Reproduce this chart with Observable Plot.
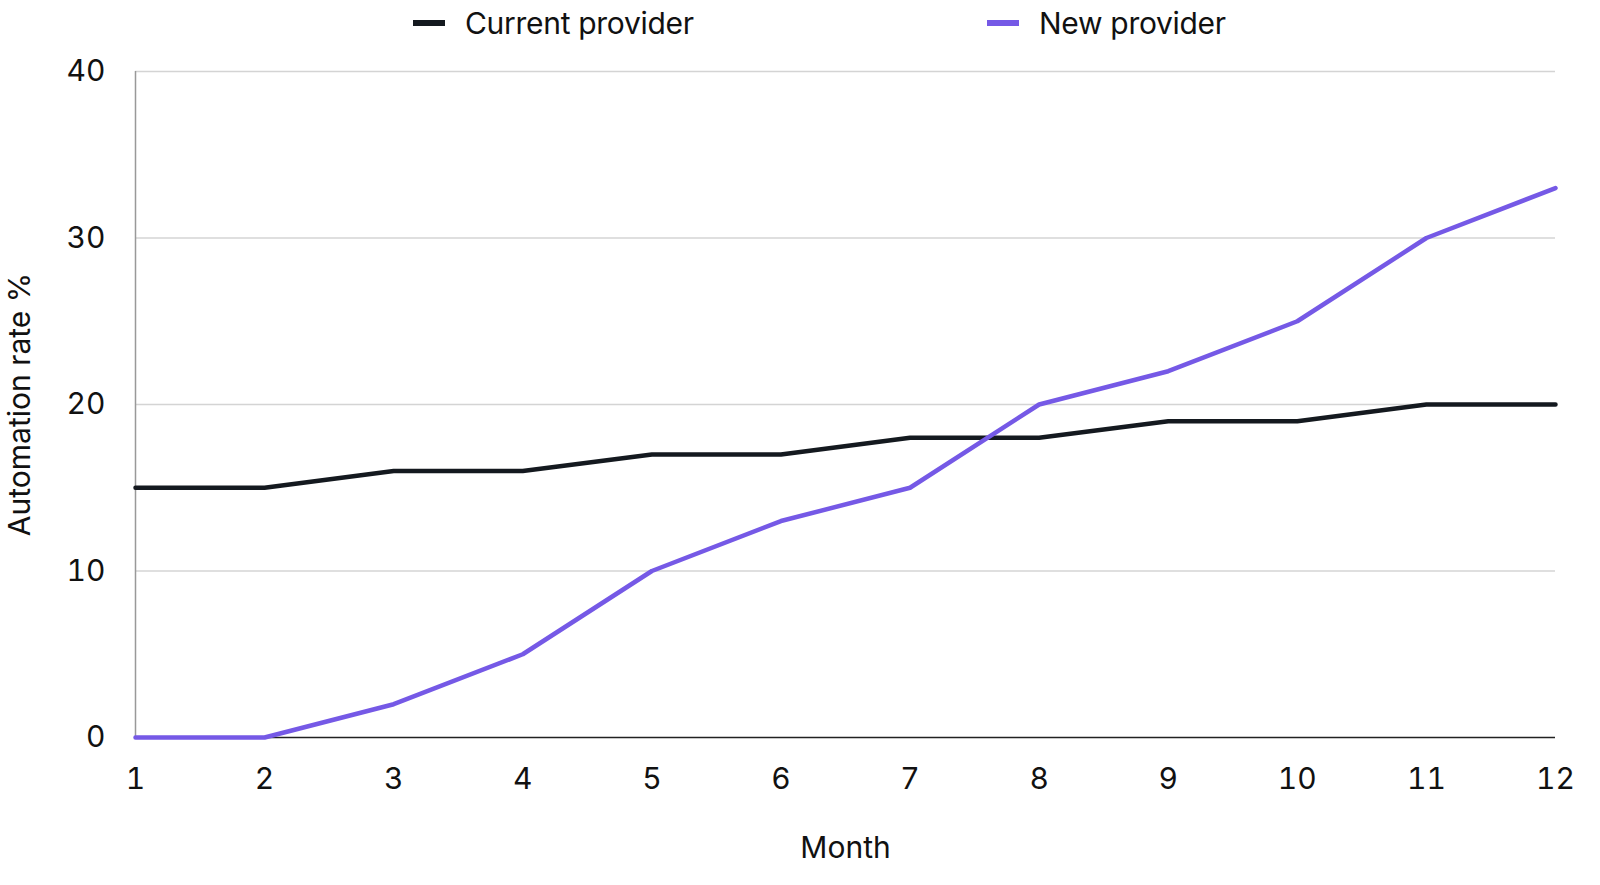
<!DOCTYPE html>
<html>
<head>
<meta charset="utf-8">
<script src="https://cdn.jsdelivr.net/npm/d3@7"></script>
<script src="https://cdn.jsdelivr.net/npm/@observablehq/plot@0.6"></script>
<style>
  html, body { margin: 0; padding: 0; background: #fff; width: 1600px; height: 885px; overflow: hidden; font-family: Inter, "Noto Sans", sans-serif; }
  #wrap { position: relative; width: 1600px; height: 885px; overflow: hidden; }
  #legend { position: relative; height: 45px; width: 1600px; font-size: 30px; color: #111; }
  .item { position: absolute; top: 3px; display: flex; align-items: center; height: 40px; letter-spacing: -0.3px; }
  .sw { width: 32px; height: 6px; margin-right: 20px; }
  #chart { height: 840px; overflow: hidden; }
  svg { display: block; }
</style>
</head>
<body>
<div id="wrap">
  <div id="legend"></div>
  <div id="chart"></div>
</div>
<script>
const months = [1,2,3,4,5,6,7,8,9,10,11,12];
const currentProvider = [15,15,16,16,17,17,18,18,19,19,20,20];
const newProvider = [0,0,2,5,10,13,15,20,22,25,30,33];
const seriesNames = ["Current provider", "New provider"];
const seriesColors = ["#14191f", "#7559e6"];
const yTicks = [0,10,20,30,40];
const gridTicks = [10,20,30,40];

const data = [
  ...months.map((m,i) => ({month: m, value: currentProvider[i], series: seriesNames[0]})),
  ...months.map((m,i) => ({month: m, value: newProvider[i], series: seriesNames[1]}))
];

// legend
const legend = document.getElementById("legend");
const legendX = [413, 987];
seriesNames.forEach((name, i) => {
  const it = document.createElement("div");
  it.className = "item";
  it.style.left = legendX[i] + "px";
  it.innerHTML = `<span class="sw" style="background:${seriesColors[i]}"></span><span>${name}</span>`;
  legend.appendChild(it);
});

const chart = Plot.plot({
  width: 1600,
  height: 840,
  marginLeft: 135,
  marginRight: 45,
  marginTop: 26,
  marginBottom: 148,
  style: {fontFamily: "Inter, 'Noto Sans', sans-serif", fontSize: "30px", color: "#111", background: "#fff", overflow: "hidden"},
  x: {domain: [1, 12]},
  y: {domain: [0, 40]},
  color: {domain: seriesNames, range: seriesColors},
  marks: [
    Plot.ruleY(gridTicks, {stroke: "#d4d4d4", strokeWidth: 1.5}),
    Plot.ruleX([1], {stroke: "#999", strokeWidth: 1.5}),
    Plot.ruleY([0], {stroke: "#222", strokeWidth: 1.5}),
    Plot.axisY({ticks: yTicks, tickSize: 0, tickPadding: 30, label: "Automation rate %", labelAnchor: "center", labelOffset: 127, labelArrow: "none"}),
    Plot.axisX({ticks: months, tickSize: 0, tickPadding: 30, tickFormat: d3.format("d"), label: "Month", labelAnchor: "center", labelOffset: 120, labelArrow: "none"}),
    Plot.line(data, {x: "month", y: "value", z: "series", stroke: "series", strokeWidth: 4.5})
  ]
});
document.getElementById("chart").appendChild(chart);
</script>
</body>
</html>
